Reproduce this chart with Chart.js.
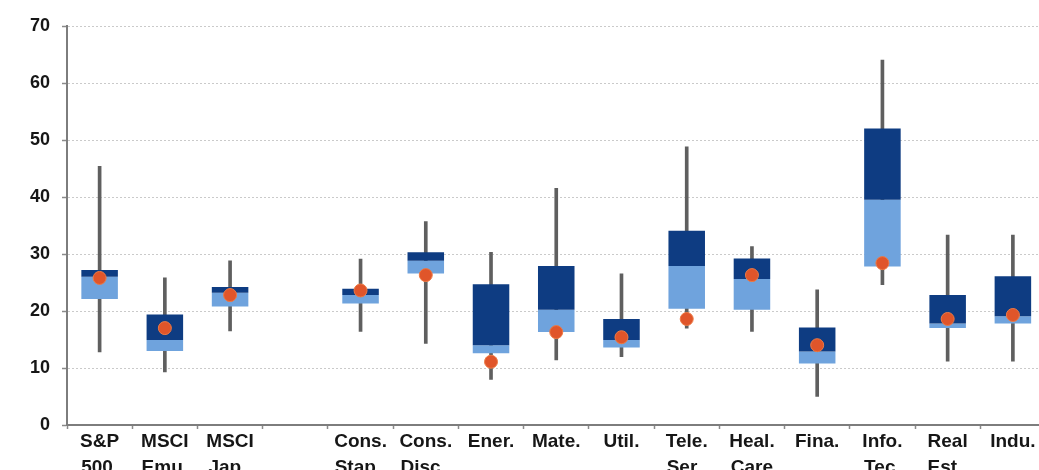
<!DOCTYPE html>
<html>
<head>
<meta charset="utf-8">
<script src="https://cdn.jsdelivr.net/npm/chart.js@4.4.1/dist/chart.umd.min.js"></script>
<style>
  html, body { margin: 0; padding: 0; background: #ffffff; overflow: hidden; }
  #wrap { width: 1039px; height: 470px; overflow: hidden; position: relative; }
  canvas { display: block; }
</style>
</head>
<body>
<div id="wrap"><canvas id="c" width="1053" height="490"></canvas></div>
<script>
// Category labels (multi-line); empty slot keeps the gap after MSCI Jap.
const categories = [
  ["S&P", "500 "], ["MSCI", "Emu "], ["MSCI", "Jap. "], "",
  ["Cons.", "Stap. "], ["Cons.", "Disc. "], "Ener.", "Mate.", "Util.",
  ["Tele.", "Ser. "], ["Heal.", "Care"], "Fina.", ["Info.", "Tec."],
  ["Real", "Est. "], "Indu."
];
// Range statistics per category (null = empty slot)
const minValues    = [12.8,  9.3, 16.5, null, 16.4, 14.3,  8.0, 11.4, 12.0, 17.0, 16.4,  5.0, 24.6, 11.2, 11.2];
const lowerValues  = [22.1, 13.0, 20.8, null, 21.3, 26.6, 12.6, 16.3, 13.6, 20.4, 20.2, 10.8, 27.8, 17.0, 17.8];
const medianValues = [26.0, 14.9, 23.2, null, 22.8, 28.8, 14.0, 20.2, 14.9, 27.9, 25.6, 12.9, 39.5, 17.8, 19.1];
const upperValues  = [27.2, 19.4, 24.2, null, 23.9, 30.3, 24.7, 27.9, 18.6, 34.1, 29.2, 17.1, 52.0, 22.8, 26.1];
const maxValues    = [45.4, 25.8, 28.8, null, 29.1, 35.7, 30.3, 41.5, 26.5, 48.8, 31.3, 23.7, 64.0, 33.3, 33.3];
const currentValues= [25.8, 17.0, 22.8, null, 23.6, 26.3, 11.1, 16.3, 15.4, 18.6, 26.3, 14.0, 28.4, 18.6, 19.3];
const yTicks = [0, 10, 20, 30, 40, 50, 60, 70];

const pair = (a, b) => a.map((v, i) => (v === null || b[i] === null) ? null : [v, b[i]]);

const FONT = "'Liberation Sans', Arial, sans-serif";

new Chart(document.getElementById('c'), {
  type: 'bar',
  data: {
    labels: categories,
    datasets: [
      {
        type: 'line',
        label: 'Current',
        data: currentValues,
        showLine: false,
        pointRadius: 6.5,
        pointBackgroundColor: '#e0552a',
        pointBorderColor: '#ec7a45',
        pointBorderWidth: 1,
        order: 0
      },
      {
        label: 'Median to upper',
        data: pair(medianValues, upperValues),
        backgroundColor: '#0e3c82',
        barPercentage: 0.56,
        categoryPercentage: 1,
        grouped: false,
        order: 1
      },
      {
        label: 'Lower to median',
        data: pair(lowerValues, medianValues),
        backgroundColor: '#6fa3dd',
        barPercentage: 0.56,
        categoryPercentage: 1,
        grouped: false,
        order: 2
      },
      {
        label: 'Range',
        data: pair(minValues, maxValues),
        backgroundColor: '#5f5f5f',
        barThickness: 3,
        grouped: false,
        order: 3
      }
    ]
  },
  options: {
    responsive: false,
    animation: false,
    devicePixelRatio: 1,
    layout: { padding: { top: 26, right: 2, left: 0, bottom: 0 } },
    plugins: { legend: { display: false }, tooltip: { enabled: false } },
    scales: {
      x: {
        offset: true,
        grid: { drawOnChartArea: false, drawTicks: true, tickLength: 4, color: '#8a8a8a', tickWidth: 1.5 },
        border: { display: true, color: '#7d7d7d', width: 2 },
        ticks: {
          autoSkip: false, maxRotation: 0, minRotation: 0, padding: -1,
          color: '#161616',
          font: { family: FONT, size: 19, weight: 'bold', lineHeight: 1.4 }
        },
        afterFit: (s) => { s.height = 65; }
      },
      y: {
        min: 0, max: 70,
        afterBuildTicks: (s) => { s.ticks = yTicks.map(v => ({ value: v })); },
        grid: { color: 'rgba(150,150,150,0.5)', lineWidth: 1, tickLength: 5, tickColor: '#8a8a8a', tickWidth: 1.5, tickBorderDash: [] },
        border: { display: true, color: '#7d7d7d', width: 2, dash: [2, 2] },
        ticks: {
          padding: 12,
          color: '#161616',
          font: { family: FONT, size: 18, weight: 'bold' }
        },
        afterFit: (s) => { s.width = 67; }
      }
    }
  }
});
</script>
</body>
</html>
